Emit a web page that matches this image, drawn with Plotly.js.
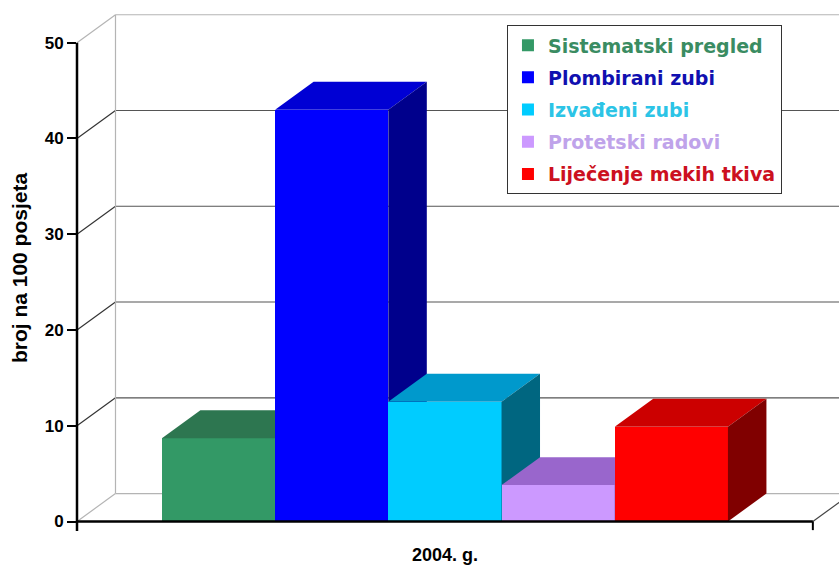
<!DOCTYPE html>
<html>
<head>
<meta charset="utf-8">
<script src="https://cdn.plot.ly/plotly-3.0.1.min.js"></script>
<style>html,body{margin:0;padding:0;background:#fff;}#chart{width:839px;height:572px;}</style>
</head>
<body>
<div id="chart"></div>
<script>
// ---- data ----
const categories = ['Sistematski pregled', 'Plombirani zubi', 'Izvađeni zubi', 'Protetski radovi', 'Liječenje mekih tkiva'];
const values = [8.7, 43.0, 12.5, 3.8, 9.9];
const groupLabel = ['2004. g.'];
const yTicks = [0, 10, 20, 30, 40, 50];
const yTitle = 'broj na 100 posjeta';

// ---- styles ----
const frontColors = ['#339966', '#0000ff', '#00ccff', '#cc99ff', '#ff0000'];
const topColors   = ['#2d7650', '#0000d4', '#0099cc', '#9966cc', '#cc0000'];
const sideColors  = ['#1f5a3c', '#00008c', '#006680', '#6a4a99', '#800000'];
const legendTextColors = ['#3a8c62', '#1010b0', '#2cc4e6', '#bfa3ea', '#cc1020'];

const DX = 0.34, DY = 2.92;           // 3D depth offset in axis units
const AX_L = -1.25, AX_R = 5.25;      // front axis extent
const xRange = [AX_L, 5.481];
const yRange = [-1.096, 54.04];
const fontA = 'Liberation Sans, Arial, sans-serif';

const traces = [];
const yaxes = {};
values.forEach((v, i) => {
  const ya = i === 0 ? 'y' : 'y' + (i + 1);
  const L = i - 0.5, R = i + 0.5;
  traces.push({
    type: 'bar', x: [i], y: [v], width: [1], yaxis: ya,
    name: '<span style="color:' + legendTextColors[i] + '">' + categories[i] + '</span>',
    legendgroup: 'g' + i,
    marker: {color: frontColors[i], line: {width: 0}},
    hovertemplate: categories[i] + ': %{y}<extra></extra>'
  });
  traces.push({
    type: 'scatter', mode: 'lines', yaxis: ya, showlegend: false, legendgroup: 'g' + i,
    x: [L, L + DX, R + DX, R, L], y: [v, v + DY, v + DY, v, v],
    fill: 'toself', fillcolor: topColors[i], line: {width: 0}, hoverinfo: 'skip'
  });
  traces.push({
    type: 'scatter', mode: 'lines', yaxis: ya, showlegend: false, legendgroup: 'g' + i,
    x: [R, R, R + DX, R + DX, R], y: [0, v, v + DY, DY, 0],
    fill: 'toself', fillcolor: sideColors[i], line: {width: 0}, hoverinfo: 'skip'
  });
  if (i > 0) {
    yaxes['yaxis' + (i + 1)] = {overlaying: 'y', range: yRange, visible: false, fixedrange: true};
  }
});

// ---- wall / floor lines ----
const shapes = [];
const lightC = '#b4b4b4', darkC = '#555555';
yTicks.forEach(t => {
  const edge = (t === 0 || t === yTicks[yTicks.length - 1]);
  const c = edge ? lightC : darkC;
  shapes.push({type: 'line', layer: 'below', xref: 'x', yref: 'y', x0: AX_L + DX, x1: AX_R + DX + 1, y0: t + DY, y1: t + DY, line: {color: c, width: 1.2}});
  shapes.push({type: 'line', layer: 'below', xref: 'x', yref: 'y', x0: AX_L, x1: AX_L + DX, y0: t, y1: t + DY, line: {color: edge ? lightC : '#333', width: 1.2}});
});
shapes.push({type: 'line', layer: 'below', xref: 'x', yref: 'y', x0: AX_L + DX, x1: AX_L + DX, y0: DY, y1: yTicks[yTicks.length - 1] + DY, line: {color: lightC, width: 1.2}});
shapes.push({type: 'line', layer: 'below', xref: 'x', yref: 'y', x0: AX_R, x1: AX_R + DX, y0: 0, y1: DY, line: {color: '#444', width: 1.2}});
// front axes
shapes.push({type: 'line', layer: 'above', xref: 'paper', yref: 'y', x0: 0, x1: 0, y0: -1.0, y1: yTicks[yTicks.length - 1], line: {color: '#000', width: 2.5}});
shapes.push({type: 'line', layer: 'above', xref: 'x', yref: 'y', x0: AX_L, x1: AX_R, y0: 0, y1: 0, line: {color: '#000', width: 2.5}});
shapes.push({type: 'line', layer: 'above', xref: 'x', yref: 'y', x0: AX_R, x1: AX_R, y0: 0, y1: -0.9, line: {color: '#000', width: 2}});

const layout = Object.assign({
  width: 839, height: 572,
  margin: {l: 77, r: 0, t: 4, b: 40, pad: 0},
  paper_bgcolor: '#ffffff', plot_bgcolor: 'rgba(0,0,0,0)',
  showlegend: true,
  xaxis: {
    range: xRange, fixedrange: true, showgrid: false, zeroline: false, showline: false,
    tickvals: [2], ticktext: groupLabel, ticks: '', ticklabelstandoff: 10,
    tickfont: {family: fontA, size: 18, weight: 'bold', color: '#000'}
  },
  yaxis: {
    range: yRange, fixedrange: true, showgrid: false, zeroline: false, showline: false,
    tickvals: yTicks, ticks: 'outside', ticklen: 9, tickwidth: 2, tickcolor: '#000',
    tickfont: {family: fontA, size: 17, weight: 'bold', color: '#000'},
    title: {text: yTitle, standoff: 11, font: {family: fontA, size: 21, weight: 'bold', color: '#000'}}
  },
  legend: {
    x: 0.564, y: 0.96, xanchor: 'left', yanchor: 'top',
    bgcolor: '#ffffff', bordercolor: '#333', borderwidth: 1.2,
    traceorder: 'grouped', tracegroupgap: 4.5,
    font: {family: 'DejaVu Sans, Verdana, sans-serif', size: 19, weight: 'bold'}
  },
  shapes: shapes,
  bargap: 0
}, yaxes);

Plotly.newPlot('chart', traces, layout, {displayModeBar: false, staticPlot: true});
</script>
</body>
</html>
